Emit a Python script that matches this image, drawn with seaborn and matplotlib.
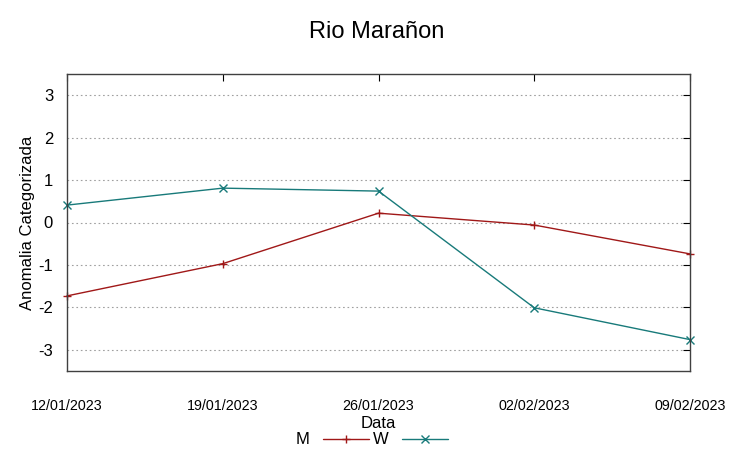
import pandas as pd
import matplotlib
matplotlib.use("Agg")
import matplotlib.pyplot as plt
import seaborn as sns
from matplotlib.lines import Line2D

# valores
datas = ["12/01/2023", "19/01/2023", "26/01/2023", "02/02/2023", "09/02/2023"]
m_vals = [-1.73, -0.97, 0.22, -0.06, -0.74]
w_vals = [0.41, 0.81, 0.74, -2.01, -2.76]
series = ["M", "W"]
cores = {"M": "#a01818", "W": "#187a7a"}
marcadores = {"M": "+", "W": "x"}

sns.set_style("white")
plt.rcParams["font.family"] = ["Liberation Sans", "DejaVu Sans"]
plt.rcParams["axes.unicode_minus"] = False
plt.rcParams["text.color"] = "black"
plt.rcParams["axes.labelcolor"] = "black"
plt.rcParams["xtick.color"] = "black"
plt.rcParams["ytick.color"] = "black"

df = pd.DataFrame({
    "pos": list(range(len(datas))) * 2,
    "valor": m_vals + w_vals,
    "serie": ["M"] * len(datas) + ["W"] * len(datas),
})

fig = plt.figure(figsize=(7.53, 4.59), dpi=100)
ax = fig.add_axes([67 / 753, 1 - 371 / 459, 623 / 753, 297 / 459])

for s in series:
    sns.lineplot(data=df[df["serie"] == s], x="pos", y="valor", color=cores[s],
                 marker=marcadores[s], linewidth=1, markersize=6,
                 markeredgewidth=1, markeredgecolor=cores[s], ax=ax,
                 clip_on=False)

ax.set_xlim(0, 4)
ax.set_ylim(-3.5, 3.5)
ax.set_xticks(range(len(datas)))
ax.set_xticklabels(datas)
ax.set_yticks([-3, -2, -1, 0, 1, 2, 3])
ax.tick_params(axis="both", direction="in", length=5, top=True, right=True,
               color="black")
ax.tick_params(axis="x", labelsize=10.3, pad=20)
ax.tick_params(axis="y", labelsize=12, pad=10)
ax.yaxis.grid(True, linestyle=(0, (1.5, 2.5)), color="#a0a0a0", linewidth=0.8)
for sp in ax.spines.values():
    sp.set_color("#404040")
    sp.set_linewidth(1)

ax.set_xlabel("Data", fontsize=12, labelpad=2)
ax.set_ylabel("Anomalia Categorizada", fontsize=12, labelpad=2)
fig.suptitle("Rio Marañon", fontsize=17, y=0.955)

handles = [Line2D([], [], color=cores[s], marker=marcadores[s], linewidth=1,
                  markersize=6, markeredgewidth=1) for s in series]
fig.legend(handles, series, loc="center", bbox_to_anchor=(372 / 753, 1 - 440 / 459),
           ncol=2, frameon=False, markerfirst=False, fontsize=12,
           handlelength=2.8, columnspacing=0.2, handletextpad=0.8, borderpad=0)

fig.savefig("out.png", dpi=100)
